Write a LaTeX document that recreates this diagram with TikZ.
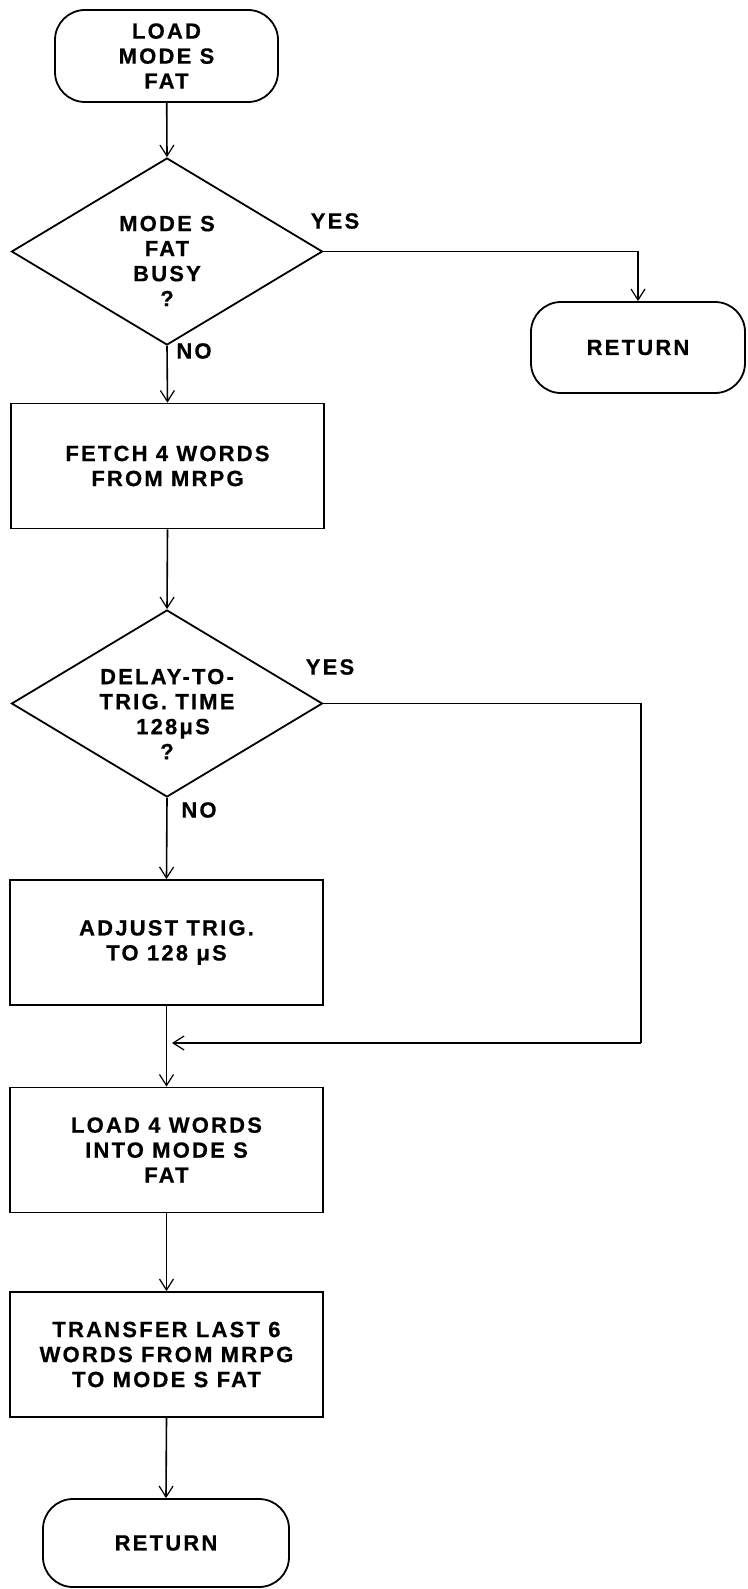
\documentclass[tikz,border=0pt]{standalone}
\usepackage{fontspec}
\setmainfont{Liberation Sans}[LetterSpace=10,FakeBold=0.6]
\usetikzlibrary{shapes.geometric,arrows.meta}
\begin{document}
\begin{tikzpicture}[x=1pt,y=-1pt,
  every node/.style={font=\fontsize{22}{25}\selectfont\bfseries, align=center},
  term/.style={draw, line width=1.8pt, rounded corners=30pt, inner sep=0pt},
  procbox/.style={draw, line width=1.8pt, minimum width=313pt, minimum height=125pt, inner sep=0pt, anchor=center},
  decis/.style={draw, line width=1.8pt, diamond, shape aspect=1.663, minimum width=311pt, minimum height=187pt, inner sep=0pt},
  txt/.style={inner sep=0pt},
  flow/.style={line width=1.6pt, -{Straight Barb[length=11pt,width=14pt,line width=1.2pt]}},
  line/.style={line width=1.6pt}
]
\useasboundingbox (0,0) rectangle (747,1589);
% nodes
\node[term, minimum width=223pt, minimum height=92pt] (start) at (166.5,56) {LOAD\\MODE S\\FAT};
\node[decis] (d1) at (167,251.5) {};
\node[txt] (d1t) at (167,261) {MODE S\\FAT\\BUSY\\?};
\node[term, minimum width=214pt, minimum height=91pt] (ret1) at (638,347.5) {RETURN};
\node[procbox] (fetch) at (167.5,466) {FETCH 4 WORDS\\FROM MRPG};
\node[decis] (d2) at (167,703.5) {};
\node[txt] (d2t) at (167,714) {DELAY-TO-\\TRIG. TIME\\\hspace*{12pt}128μS\\?};
\node[procbox] (adj) at (166.5,942.5) {ADJUST TRIG.\\TO 128 μS};
\node[procbox] (load) at (166.5,1150) {LOAD 4 WORDS\\INTO MODE S\\FAT};
\node[procbox] (xfer) at (166.5,1354.5) {TRANSFER LAST 6\\WORDS FROM MRPG\\TO MODE S FAT};
\node[term, minimum width=246pt, minimum height=88pt] (ret2) at (166,1543) {RETURN};
% labels
\node[txt] (yes1) at (335,221) {YES};
\node[txt] (no1) at (194,351) {NO};
\node[txt] (yes2) at (330,667) {YES};
\node[txt] (no2) at (199,810) {NO};
\coordinate (j) at (167,1043);
\coordinate (jr) at (641,1043);
% connectors
\draw[flow] (start) -- (d1.north);
\draw[flow] (d1.east) -| (ret1.north);
\draw[flow] (d1.south) -- (fetch.north);
\draw[flow] (fetch.south) -- (d2.north);
\draw[flow] (d2.south) -- (adj.north);
\draw[line] (d2.east) -| (jr);
\draw[flow, shorten >=5pt] (jr) -- (j);
\draw[flow] (adj.south) -- (load.north);
\draw[flow] (load.south) -- (xfer.north);
\draw[flow] (xfer.south) -- (ret2.north);
\end{tikzpicture}
\end{document}
